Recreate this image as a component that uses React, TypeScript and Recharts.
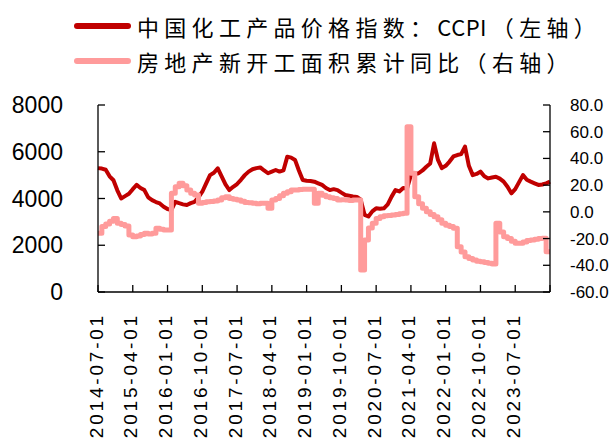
import { ComposedChart, Line, XAxis, YAxis } from 'recharts';

// month index 0 = 2014-07, one value per month
const ccpi = [
  5300, 5280, 5230, 4950, 4780, 4350, 4000, 4100, 4200, 4400,
  4580, 4450, 4360, 4050, 3930, 3850, 3790, 3650, 3550, 3510,
  3860, 3800, 3750, 3720, 3800, 3860, 4050, 4290, 4650, 5000,
  5100, 5290, 4950, 4600, 4360, 4500, 4620, 4800, 5000, 5150,
  5250, 5300, 5330, 5200, 5080, 5150, 5220, 5150, 5200, 5790,
  5750, 5650, 5200, 4790, 4760, 4750, 4720, 4650, 4580, 4450,
  4360, 4400, 4360, 4250, 4150, 4120, 4090, 4070, 3950, 3300,
  3230, 3450, 3580, 3560, 3580, 3750, 4080, 4360, 4300, 4450,
  4430, 5000, 5050, 5080, 5200, 5360, 5500, 6360, 5650, 5300,
  5400, 5580, 5800, 5860, 5900, 6220, 5400, 5000, 5050, 5150,
  4950, 4860, 4900, 4930, 4850, 4720, 4500, 4220, 4400, 4700,
  5000, 4800, 4720, 4650, 4580, 4600, 4650, 4720,
];

const newStartsYoY = [
  -16, -11, -9, -7, -5, -8.6, -9.5, -10.6, -17.3, -18.6,
  -18, -17, -16, -16.5, -16, -12.3, -13, -13.5, -13.6, 13.9,
  18.8, 21.4, 19.5, 16.4, 14, 12.6, 6.4, 7, 7.6, 7.8,
  8.2, 8.9, 10.5, 11.3, 10, 9.5, 8.9, 8, 7, 6.8,
  6.4, 6, 6.4, 6.4, 2.7, 8.9, 10, 12, 13.9, 15,
  16.4, 16.4, 16.8, 17, 16.9, 16.9, 6.4, 13.9, 12.5, 11.3,
  10.5, 10, 8.9, 9, 8.9, 8.5, 8.9, 8.9, -43.5, -21,
  -12, -8.6, -5, -3.6, -3, -2.8, -2.4, -2, -1.5, -1.1,
  63.8, 28.9, 11.3, 6, 2.7, 0, -2, -3.6, -6, -8.6,
  -10, -11, -12.3, -26.1, -30, -33.6, -35, -36, -37, -37.3,
  -38, -38.5, -39, -8.6, -15, -18.6, -20, -22, -23.5, -23.5,
  -22.5, -21.5, -21.1, -20.5, -20, -19.8, -29.8, -29.8,
];

const xLabels = [
  '2014-07-01', '2015-04-01', '2016-01-01', '2016-10-01', '2017-07-01',
  '2018-04-01', '2019-01-01', '2019-10-01', '2020-07-01', '2021-04-01',
  '2022-01-01', '2022-10-01', '2023-07-01',
];
const xTicks = [0, 9, 18, 27, 36, 45, 54, 63, 72, 81, 90, 99, 108, 117];
const leftTicks = [0, 2000, 4000, 6000, 8000];
const rightTicks = [-60, -40, -20, 0, 20, 40, 60, 80];

const data = ccpi.map((v, i) => ({ t: i, ccpi: v, starts: newStartsYoY[i] }));

const FONT = '"Liberation Sans", Arial, sans-serif';
const CJK = '"Noto Sans CJK SC", sans-serif';

function DateTick(props: any) {
  const { x, y, payload } = props;
  const label = xLabels[payload.value / 9] ?? '';
  const cx = x - 2;
  return (
    <text
      x={cx}
      y={y}
      transform={`rotate(-90 ${cx} ${y})`}
      textAnchor="end"
      dominantBaseline="central"
      fontSize={19}
      letterSpacing={2.8}
      fontFamily={FONT}
      fill="#000"
    >
      {label}
    </text>
  );
}

function LegendBox() {
  const text = { fontFamily: CJK, fontSize: 22, letterSpacing: 5.3, color: '#000' };
  const row = { display: 'flex', alignItems: 'center', height: 35 } as const;
  const sample = (color: string) => (
    <svg width={62} height={12}>
      <line x1={5} y1={6} x2={56} y2={6} stroke={color} strokeWidth={6} strokeLinecap="round" />
    </svg>
  );
  return (
    <div style={{ position: 'absolute', left: 72, top: 8 }}>
      <div style={row}>
        {sample('#C00000')}
        <span style={{ ...text, marginLeft: 3, whiteSpace: 'nowrap' }}>
          中国化工产品价格指数：<span style={{ letterSpacing: 0.5 }}>CCP</span>I（左轴）
        </span>
      </div>
      <div style={row}>
        {sample('#FF9B9B')}
        <span style={{ ...text, marginLeft: 3, whiteSpace: 'nowrap' }}>房地产新开工面积累计同比（右轴）</span>
      </div>
    </div>
  );
}

export default function App() {
  return (
    <div style={{ position: 'absolute', left: 0, top: 0, width: 616, height: 441, background: '#fff' }}>
      <LegendBox />
      <ComposedChart width={616} height={441} data={data} margin={{ top: 105, right: 0, bottom: 0, left: 0 }}>
        <XAxis
          dataKey="t"
          type="number"
          domain={[0, 117]}
          ticks={xTicks}
          interval={0}
          height={149}
          tickSize={-7}
          tickMargin={28}
          tick={<DateTick />}
          axisLine={{ stroke: '#000', strokeWidth: 1.3 }}
          tickLine={{ stroke: '#000', strokeWidth: 1.3 }}
        />
        <YAxis
          yAxisId="left"
          domain={[0, 8000]}
          ticks={leftTicks}
          interval={0}
          width={98}
          tickSize={-7}
          tickMargin={42}
          tick={{ fontSize: 23, fontFamily: FONT, fill: '#000' }}
          axisLine={{ stroke: '#000', strokeWidth: 1.3 }}
          tickLine={{ stroke: '#000', strokeWidth: 1.3 }}
        />
        <YAxis
          yAxisId="right"
          orientation="right"
          domain={[-60, 80]}
          ticks={rightTicks}
          interval={0}
          width={66}
          tickSize={-7}
          tickMargin={27}
          tickFormatter={(v: number) => v.toFixed(1)}
          tick={{ fontSize: 17, fontFamily: FONT, fill: '#000', textAnchor: 'start' }}
          axisLine={{ stroke: '#000', strokeWidth: 1.3 }}
          tickLine={{ stroke: '#000', strokeWidth: 1.3 }}
        />
        <Line
          yAxisId="left"
          dataKey="ccpi"
          name="中国化工产品价格指数：CCPI（左轴）"
          type="linear"
          stroke="#C00000"
          strokeWidth={4}
          strokeLinejoin="round"
          dot={false}
          isAnimationActive={false}
        />
        <Line
          yAxisId="right"
          dataKey="starts"
          name="房地产新开工面积累计同比（右轴）"
          type="stepAfter"
          stroke="#FF9B9B"
          strokeWidth={5}
          strokeLinejoin="round"
          dot={false}
          isAnimationActive={false}
        />
      </ComposedChart>
    </div>
  );
}
